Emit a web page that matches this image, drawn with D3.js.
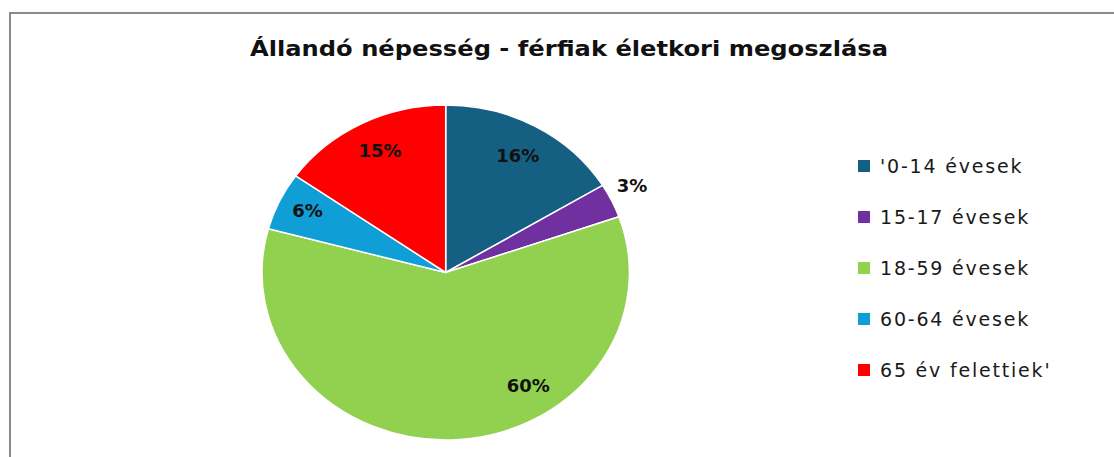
<!DOCTYPE html>
<html><head><meta charset="utf-8">
<script src="https://cdn.jsdelivr.net/npm/d3@7"></script>
<style>body{margin:0;background:#fff}svg{display:block}</style>
</head><body>
<svg id="c" width="1114" height="457"></svg>
<script>
const title = "Állandó népesség - férfiak életkori megoszlása";
const categories = ["'0-14 évesek","15-17 évesek","18-59 évesek","60-64 évesek","65 év felettiek'"];
const values = [16.3, 3.3, 59.6, 5.6, 15.2];
const colors = ["#156082","#7030A0","#92D050","#0F9ED5","#FF0000"];

const svg = d3.select("#c");
// frame
svg.append("path").attr("d","M10,465 L10,13 L1120,13").attr("fill","none").attr("stroke","#8a8a8a").attr("stroke-width",2);

const t = svg.append("text").attr("x",569).attr("y",56).attr("text-anchor","middle")
  .attr("font-family","DejaVu Sans, sans-serif").attr("font-weight",700).attr("font-size",22)
  .attr("fill","#111").text(title);
const tw = t.node().getComputedTextLength();
if (Math.abs(tw-638) > 4) t.attr("textLength",638).attr("lengthAdjust","spacingAndGlyphs");

const cx = 445.7, cy = 272.5, ry = 167.5, rx = 183.7, sx = rx/ry;
const total = d3.sum(values);
const pie = d3.pie().sort(null).value(d=>d)(values);
const arc = d3.arc().innerRadius(0).outerRadius(ry);
const g = svg.append("g").attr("transform",`translate(${cx},${cy}) scale(${sx},1)`);
g.selectAll("path").data(pie).join("path")
  .attr("d",arc).attr("fill",(d,i)=>colors[i])
  .attr("stroke","#fff").attr("stroke-width",1.5).attr("vector-effect","non-scaling-stroke");

// label placement (layout, not data)
const labelR = [0.80, 1.14, 0.81, 0.84, 0.81];
const labelShift = [0, -0.03, -0.55, 0.02, 0.02];
pie.forEach((d,i)=>{
  const a = (d.startAngle+d.endAngle)/2 + labelShift[i];
  const x = cx + Math.sin(a)*rx*labelR[i];
  const y = cy - Math.cos(a)*ry*labelR[i];
  svg.append("text").attr("x",x).attr("y",y).attr("dy","0.36em").attr("text-anchor","middle")
    .attr("font-family","DejaVu Sans, sans-serif").attr("font-weight",700).attr("font-size",18)
    .attr("fill","#111").text(Math.round(values[i]/total*100)+"%");
});

const leg = svg.append("g");
categories.forEach((c,i)=>{
  const y = 166 + i*51;
  leg.append("rect").attr("x",858).attr("y",y-6).attr("width",12).attr("height",12).attr("fill",colors[i]);
  leg.append("text").attr("x",880).attr("y",y).attr("dy","0.36em")
    .attr("font-family","DejaVu Sans, sans-serif").attr("font-size",19).attr("letter-spacing",1.8)
    .attr("fill","#1a1a1a").text(c);
});
</script>
</body></html>
